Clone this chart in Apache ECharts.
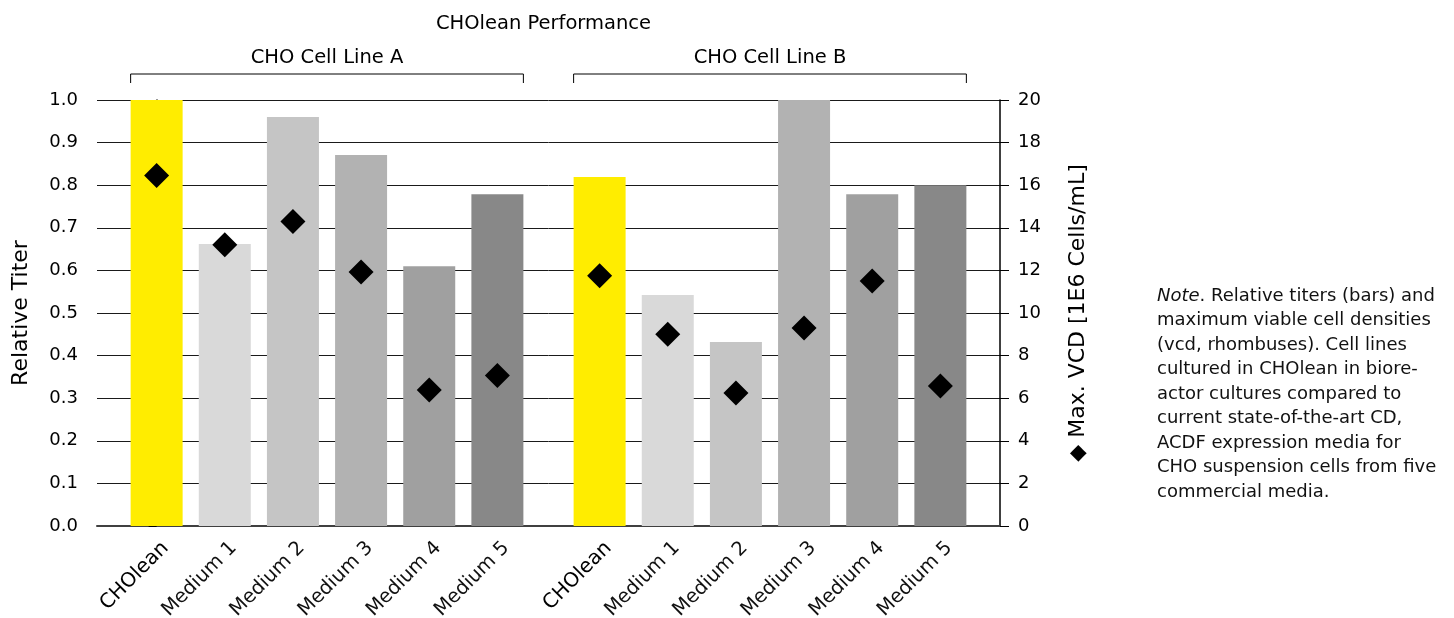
<!DOCTYPE html>
<html>
<head>
<meta charset="utf-8">
<title>CHOlean Performance</title>
<script src="https://cdn.jsdelivr.net/npm/echarts@6/dist/echarts.min.js"></script>
<style>
    html, body { margin: 0; padding: 0; background: #fff; }
    #chart { width: 1454px; height: 618px; }
</style>
</head>
<body>
<div id="chart"></div>
<script>
// data
var groups = ['CHO Cell Line A', 'CHO Cell Line B'];
var media = ['CHOlean', 'Medium 1', 'Medium 2', 'Medium 3', 'Medium 4', 'Medium 5'];
var titerA = [1.0, 0.662, 0.96, 0.871, 0.61, 0.779];
var titerB = [0.819, 0.542, 0.432, 1.0, 0.779, 0.80];
var vcdA = [16.45, 13.2, 14.3, 11.92, 6.38, 7.07];
var vcdB = [11.75, 9.0, 6.24, 9.3, 11.5, 6.57];
var titerTicks = [0, 0.1, 0.2, 0.3, 0.4, 0.5, 0.6, 0.7, 0.8, 0.9, 1.0];
var vcdTicks = [0, 2, 4, 6, 8, 10, 12, 14, 16, 18, 20];
var mediaColors = ['#FFED00', '#D9D9D9', '#C5C5C5', '#B2B2B2', '#A0A0A0', '#888888'];

var FONT = 'DejaVu Sans';
var groupGap = 1.5;     // distance between the last bar of A and first of B, in slots
var labelShift = 0.13;  // category labels sit a touch right of the bar centre

function slot(g, i) {
    return g * (media.length - 1 + groupGap) + i;
}

var titers = [titerA, titerB];
var vcds = [vcdA, vcdB];
var barData = [], diamondData = [], labelAt = {};
groups.forEach(function (name, g) {
    media.forEach(function (m, i) {
        var x = slot(g, i);
        labelAt[(x + labelShift).toFixed(2)] = m;
        barData.push({ value: [x, titers[g][i]], itemStyle: { color: mediaColors[i] } });
        diamondData.push([x, vcds[g][i]]);
    });
});
var labelValues = Object.keys(labelAt).map(Number);

var chart = echarts.init(document.getElementById('chart'));
var option = {
    animation: false,
    textStyle: { fontFamily: FONT, color: '#000' },
    grid: { left: 97, right: 454, top: 100, bottom: 92, outerBoundsMode: 'none', containLabel: false },
    xAxis: {
        type: 'value',
        min: -0.875,
        max: slot(1, media.length - 1) + 0.875,
        splitLine: { show: false },
        axisTick: { show: false },
        axisLine: { onZero: false, lineStyle: { color: '#404040', width: 2 } },
        axisLabel: {
            customValues: labelValues,
            rotate: 45,
            margin: 19,
            formatter: function (v) {
                var t = labelAt[v.toFixed(2)] || '';
                return t === 'CHOlean' ? '{b|' + t + '}' : '{m|' + t + '}';
            },
            rich: {
                b: { fontFamily: FONT, fontSize: 20, color: '#000' },
                m: { fontFamily: FONT, fontSize: 19.5, color: '#111' }
            }
        }
    },
    yAxis: [
        {
            type: 'value',
            min: titerTicks[0],
            max: titerTicks[titerTicks.length - 1],
            interval: 0.1,
            name: 'Relative Titer',
            nameLocation: 'middle',
            nameRotate: 90,
            nameGap: 65,
            nameTextStyle: { fontFamily: FONT, fontSize: 22, color: '#000' },
            axisLine: { show: true, lineStyle: { color: '#000', width: 1.5 } },
            axisTick: { show: true, length: 8, lineStyle: { color: '#000' } },
            axisLabel: {
                margin: 19, fontSize: 18, color: '#000', fontFamily: FONT,
                formatter: function (v) { return v.toFixed(1); }
            },
            splitLine: { lineStyle: { color: '#1a1a1a', width: 1 } }
        },
        {
            type: 'value',
            min: vcdTicks[0],
            max: vcdTicks[vcdTicks.length - 1],
            interval: 2,
            position: 'right',
            name: '\u25C6 Max. VCD [1E6 Cells/mL]',
            nameLocation: 'middle',
            nameRotate: 90,
            nameGap: 67,
            nameTextStyle: { fontFamily: FONT, fontSize: 22, color: '#000' },
            axisLine: { show: true, lineStyle: { color: '#000', width: 1.5 } },
            axisTick: { show: true, length: 9, lineStyle: { color: '#000' } },
            axisLabel: { margin: 18, fontSize: 18, color: '#000', fontFamily: FONT },
            splitLine: { show: false }
        }
    ],
    series: [
        {
            name: 'Relative Titer',
            type: 'bar',
            barWidth: 52,
            data: barData,
            z: 2
        },
        {
            name: 'Max. VCD',
            type: 'scatter',
            yAxisIndex: 1,
            symbol: 'diamond',
            symbolSize: 25,
            itemStyle: { color: '#000', opacity: 1 },
            data: diamondData,
            z: 3
        }
    ]
};
chart.setOption(option);

// title, group brackets and the note, placed from the axis scale
var plotLeft = chart.convertToPixel({ xAxisIndex: 0 }, option.xAxis.min);
var plotRight = chart.convertToPixel({ xAxisIndex: 0 }, option.xAxis.max);
var graphics = [
    {
        type: 'text', x: (plotLeft + plotRight) / 2 - 5, y: 14,
        style: { text: 'CHOlean Performance', fontFamily: FONT, fontSize: 19.5, fill: '#000', align: 'center' }
    }
];
groups.forEach(function (name, g) {
    var x0 = chart.convertToPixel({ xAxisIndex: 0 }, slot(g, 0)) - 26;
    var x1 = chart.convertToPixel({ xAxisIndex: 0 }, slot(g, media.length - 1)) + 26;
    graphics.push({
        type: 'polyline',
        shape: { points: [[x0, 83], [x0, 74], [x1, 74], [x1, 83]] },
        style: { stroke: '#000', lineWidth: 1, fill: null }
    });
    graphics.push({
        type: 'text', x: (x0 + x1) / 2, y: 48,
        style: { text: name, fontFamily: FONT, fontSize: 19.5, fill: '#000', align: 'center' }
    });
});
graphics.push({
    type: 'text', x: 1157, y: 284,
    style: {
        text: [
            '{i|Note}. Relative titers (bars) and',
            'maximum viable cell densities',
            '(vcd, rhombuses). Cell lines',
            'cultured in CHOlean in biore-',
            'actor cultures compared to',
            'current state-of-the-art CD,',
            'ACDF expression media for',
            'CHO suspension cells from five',
            'commercial media.'
        ].join('\n'),
        fontFamily: FONT, fontSize: 18, lineHeight: 24.5, fill: '#111',
        rich: { i: { fontFamily: FONT, fontSize: 18, fontStyle: 'italic', fill: '#111' } }
    }
});
chart.setOption({ graphic: graphics });
</script>
</body>
</html>
